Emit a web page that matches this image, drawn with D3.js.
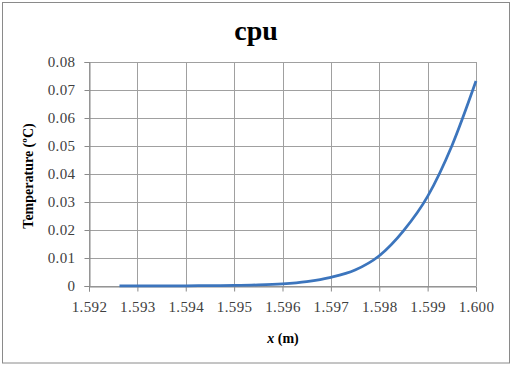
<!DOCTYPE html>
<html><head><meta charset="utf-8">
<script src="https://cdn.jsdelivr.net/npm/d3@7"></script>
<style>body{margin:0;background:#fff}svg{display:block}svg text{font-family:"Liberation Serif","Times New Roman","DejaVu Serif",serif}</style>
</head><body>
<svg id="c" width="512" height="366"></svg>
<script>
const xValues = [1.59263, 1.593, 1.5935, 1.594, 1.5945, 1.595, 1.5955, 1.596, 1.5965, 1.597, 1.5975, 1.598, 1.5985, 1.599, 1.5995, 1.600];
const tempValues = [0.00002, 0.00003, 0.00005, 0.00008, 0.00013, 0.0002, 0.0004, 0.0008, 0.0016, 0.0031, 0.0057, 0.0108, 0.0197, 0.0320, 0.0500, 0.0732];
const xTicks = [1.592, 1.593, 1.594, 1.595, 1.596, 1.597, 1.598, 1.599, 1.600];
const yTicks = [0, 0.01, 0.02, 0.03, 0.04, 0.05, 0.06, 0.07, 0.08];
const title = "cpu";
const yTitle = "Temperature (ºC)";

const svg = d3.select("#c");
const L = 89, R = 476, T = 62, B = 286;
const x = d3.scaleLinear().domain([1.592, 1.600]).range([L, R]);
const y = d3.scaleLinear().domain([0, 0.08]).range([B, T]);

svg.append("rect").attr("x", 2.5).attr("y", 2.5).attr("width", 507).attr("height", 360.5)
  .attr("fill", "#fff").attr("stroke", "#8a8a8a").attr("stroke-width", 1);

// gridlines
const g = svg.append("g");
g.selectAll(".vg").data(xTicks).join("line")
  .attr("x1", d => Math.round(x(d)) + 0.5).attr("x2", d => Math.round(x(d)) + 0.5)
  .attr("y1", T).attr("y2", B).attr("stroke", "#a0a0a0");
g.selectAll(".hg").data(yTicks).join("line")
  .attr("y1", d => Math.round(y(d)) + 0.5).attr("y2", d => Math.round(y(d)) + 0.5)
  .attr("x1", L).attr("x2", R).attr("stroke", "#a0a0a0");

// axes
const yAxis = svg.append("g").attr("transform", `translate(${L + 0.5},0)`)
  .call(d3.axisLeft(y).tickValues(yTicks).tickSize(5).tickPadding(9).tickFormat(d => d === 0 ? "0" : d3.format(".2f")(d)));
const xAxis = svg.append("g").attr("transform", `translate(0,${B + 0.5})`)
  .call(d3.axisBottom(x).tickValues(xTicks).tickSize(5).tickPadding(10).tickFormat(d3.format(".3f")));
[yAxis, xAxis].forEach(a => {
  a.attr("font-family", null);
  a.select(".domain").attr("stroke", "#8a8a8a");
  a.selectAll(".tick line").attr("stroke", "#8a8a8a");
  a.selectAll("text").style("font-size", "15px").style("letter-spacing", "0.4px").attr("fill", "#404040");
});

// line
svg.append("path")
  .datum(xValues.map((d, i) => [d, tempValues[i]]))
  .attr("fill", "none").attr("stroke", "#3c75bd").attr("stroke-width", 2.75)
  .attr("d", d3.line().x(d => x(d[0])).y(d => y(d[1])).curve(d3.curveMonotoneX));

// titles
svg.append("text").attr("x", 256).attr("y", 40).attr("text-anchor", "middle")
  .style("font-weight", "bold").style("font-size", "28px").text(title);
svg.append("text").attr("transform", "translate(33,176) rotate(-90)").attr("text-anchor", "middle")
  .style("font-weight", "bold").style("font-size", "14px").text(yTitle);
const xt = svg.append("text").attr("x", 283).attr("y", 343).attr("text-anchor", "middle")
  .style("font-weight", "bold").style("font-size", "14px");
xt.append("tspan").style("font-style", "italic").text("x");
xt.append("tspan").text(" (m)");
</script>
</body></html>
